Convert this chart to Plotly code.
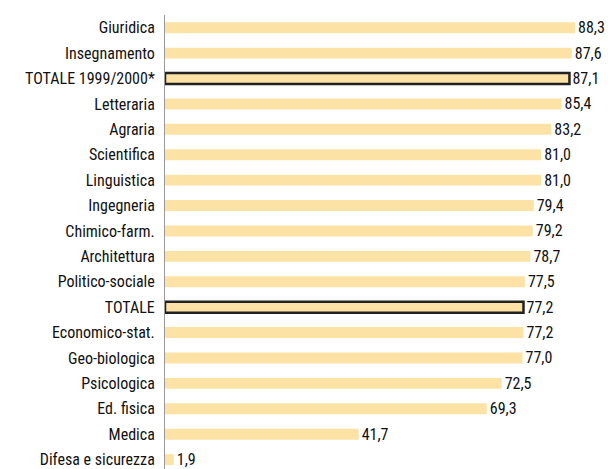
import plotly.graph_objects as go

categories = ["Giuridica", "Insegnamento", "TOTALE 1999/2000*", "Letteraria", "Agraria",
              "Scientifica", "Linguistica", "Ingegneria", "Chimico-farm.", "Architettura",
              "Politico-sociale", "TOTALE", "Economico-stat.", "Geo-biologica", "Psicologica",
              "Ed. fisica", "Medica", "Difesa e sicurezza"]
values = [88.3, 87.6, 87.1, 85.4, 83.2, 81.0, 81.0, 79.4, 79.2, 78.7, 77.5, 77.2, 77.2,
          77.0, 72.5, 69.3, 41.7, 1.9]
highlight = ["TOTALE 1999/2000*", "TOTALE"]

font_family = "Roboto Condensed, Archivo Narrow, Liberation Sans Narrow, DejaVu Sans Condensed, sans-serif"
labels = [f"{v:.1f}".replace(".", ",") for v in values]
line_w = [2.5 if c in highlight else 0 for c in categories]

fig = go.Figure(go.Bar(
    y=categories, x=values, orientation="h",
    marker=dict(color="#FDE2A6", line=dict(color="#222222", width=line_w)),
    width=0.43,
    text=labels, textposition="outside", cliponaxis=False, constraintext="none",
    textfont=dict(family=font_family, size=16, color="#111111"),
    hoverinfo="skip",
))

fig.update_layout(
    width=608, height=469,
    margin=dict(l=165, r=0, t=15, b=0, autoexpand=False),
    paper_bgcolor="white", plot_bgcolor="white",
    font=dict(family=font_family, size=16, color="#111111"),
    showlegend=False,
)
fig.update_xaxes(range=[0, 95.4], showgrid=False, showticklabels=False, zeroline=False,
                 showline=False, automargin=False)
fig.update_yaxes(range=[17.37, -0.5], showgrid=False, showline=True, linecolor="#999999", linewidth=1,
                 ticks="", ticklen=0, ticklabelstandoff=6, automargin=False)

fig.write_html("out.html", config={"displayModeBar": False},
               post_script="document.body.style.margin='0';document.body.style.overflow='hidden';")
